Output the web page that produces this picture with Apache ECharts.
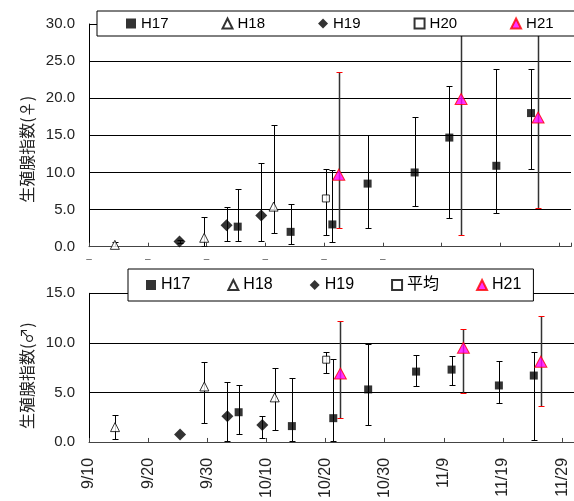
<!DOCTYPE html>
<html><head><meta charset="utf-8">
<script src="https://cdn.jsdelivr.net/npm/echarts@6/dist/echarts.min.js"></script>
<style>html,body{margin:0;padding:0;background:#fff}#c{width:574px;height:501px}</style>
</head><body><div id="c"></div>
<script>
// x values are days after 9/10
const xTickLabels = ['9/10','9/20','9/30','10/10','10/20','10/30','11/9','11/19','11/29'];
const yTickLabelsF = ['0.0','5.0','10.0','15.0','20.0','25.0','30.0'];
const yTickLabelsM = ['0.0','5.0','10.0','15.0'];

// ---- female (top) ----
const fH17Day = [25.3, 34.3, 41.4, 47.4, 55.4, 61.3, 69.3, 75.2];
const fH17Val = [2.7, 2.0, 3.0, 8.5, 10.0, 14.7, 10.9, 18.0];
const fH17Lo  = [0.8, 0.3, 0.7, 2.5, 5.5, 3.8, 4.6, 10.5];
const fH17Hi  = [7.8, 5.8, 10.3, 15.0, 17.5, 21.7, 24.0, 24.0];
const fH18Day = [4.4, 19.6, 31.4];
const fH18Val = [0.25, 1.2, 5.4];
const fH18Lo  = [0.0, 0.1, 1.9];
const fH18Hi  = [0.6, 4.0, 16.4];
const fH19Day = [15.4, 23.4, 29.3];
const fH19Val = [0.7, 2.9, 4.2];
const fH19Lo  = [0.5, 0.8, 0.8];
const fH19Hi  = [0.9, 5.3, 11.3];
const fH20Day = [40.3];
const fH20Val = [6.5];
const fH20Lo  = [1.6];
const fH20Hi  = [10.5];
const fH21Day = [42.5, 63.3, 76.4];
const fH21Val = [9.7, 19.9, 17.4];
const fH21Lo  = [2.5, 1.6, 5.2];
const fH21Hi  = [23.6, 32.0, 31.0];

// ---- male (bottom) ----
const mH17Day = [25.3, 34.3, 41.3, 47.2, 55.3, 61.3, 69.3, 75.2];
const mH17Val = [3.0, 1.6, 2.4, 5.3, 7.1, 7.3, 5.7, 6.7];
const mH17Lo  = [0.8, 0.1, 0.1, 1.7, 5.6, 5.7, 3.9, 0.2];
const mH17Hi  = [5.75, 6.5, 8.35, 9.9, 8.8, 8.65, 8.2, 9.1];
const mH18Day = [4.4, 19.5, 31.4];
const mH18Val = [1.5, 5.6, 4.5];
const mH18Lo  = [0.3, 1.9, 1.25];
const mH18Hi  = [2.7, 8.1, 7.5];
const mH19Day = [15.4, 23.4, 29.3];
const mH19Val = [0.75, 2.6, 1.7];
const mH19Lo  = [null, 0.1, 0.4];
const mH19Hi  = [null, 6.0, 2.6];
const mAvgDay = [40.1];
const mAvgVal = [8.3];
const mAvgLo  = [7.0];
const mAvgHi  = [9.1];
const mH21Day = [42.5, 63.3, 76.4];
const mH21Val = [6.9, 9.5, 8.1];
const mH21Lo  = [2.4, 4.9, 3.65];
const mH21Hi  = [12.2, 11.4, 12.7];

const FONT = "'Liberation Sans', Arial, 'Noto Sans CJK JP', sans-serif";

const styles = {
  H17: {symbol:'rect', size:8, item:{color:'#000', borderColor:'#000', borderWidth:0}},
  H18: {symbol:'triangle', size:[9,9], item:{color:'#fff', borderColor:'#000', borderWidth:1}},
  H19: {symbol:'diamond', size:[12,12], item:{color:'#000', borderColor:'#000', borderWidth:0}},
  H20: {symbol:'rect', size:7, item:{color:'#fff', borderColor:'#000', borderWidth:1}},
  H21: {symbol:'triangle', size:[12,11], item:{color:'#ff00ff', borderColor:'#ff0000', borderWidth:1}}
};

function scat(name, key, idx, days, vals) {
  const s = styles[key];
  return {
    type:'scatter', name:name, xAxisIndex:idx, yAxisIndex:idx,
    data: days.map((d,i)=>[d, vals[i]]),
    symbol:s.symbol, symbolSize:s.size, itemStyle:s.item, z:5,
    emphasis:{disabled:true}, silent:true
  };
}

function errs(idx, days, lo, hi, capColor, lineColor, lineW) {
  const data = [];
  days.forEach((d,i)=>{ if (lo[i] != null && hi[i] != null) data.push([d, lo[i], hi[i]]); });
  return {
    type:'custom', name:'err'+idx+capColor+days[0], xAxisIndex:idx, yAxisIndex:idx, clip:true, z:3,
    silent:true,
    data:data,
    renderItem: function(params, api) {
      const p1 = api.coord([api.value(0), api.value(1)]);
      const p2 = api.coord([api.value(0), api.value(2)]);
      const x = Math.round(p1[0]) + 0.5;
      const y1 = Math.round(p1[1]) + 0.5, y2 = Math.round(p2[1]) + 0.5;
      const hw = 3;
      return {type:'group', children:[
        {type:'line', shape:{x1:x, y1:y1, x2:x, y2:y2}, style:{stroke:lineColor, lineWidth:lineW}},
        {type:'line', shape:{x1:x-hw, y1:y1, x2:x+hw, y2:y1}, style:{stroke:capColor, lineWidth:1}},
        {type:'line', shape:{x1:x-hw, y1:y2, x2:x+hw, y2:y2}, style:{stroke:capColor, lineWidth:1}}
      ]};
    }
  };
}

function dayLabelTop(v) {
  if (v % 10 === 0 && v <= 50) return '\u2013';
  return '';
}
function dayLabelBottom(v) {
  if (v % 10 === 0 && v/10 < xTickLabels.length) return xTickLabels[v/10];
  return '';
}

const chart = echarts.init(document.getElementById('c'), null, {renderer:'canvas'});
const xBase = {
  type:'value', min:0, max:82, interval:10,
  axisLine:{show:true, lineStyle:{color:'#444', width:1}},
  axisTick:{show:true, inside:true, length:4, lineStyle:{color:'#444'}},
  splitLine:{show:false}
};
const yBase = {
  type:'value', min:0, interval:5,
  axisLine:{show:true, lineStyle:{color:'#000', width:1}},
  axisTick:{show:false},
  splitLine:{show:true, lineStyle:{color:'#000', width:1}},
  nameLocation:'middle', nameRotate:90, nameGap:50
};

chart.setOption({
  animation:false,
  backgroundColor:'#fff',
  textStyle:{fontFamily:FONT},
  grid:[
    {left:89, right:0, top:24, bottom:254.3},
    {left:89, right:0, top:293.3, bottom:56}
  ],
  xAxis:[
    Object.assign({}, xBase, {gridIndex:0,
      axisLabel:{formatter:dayLabelTop, fontSize:10, color:'#555', margin:8}}),
    Object.assign({}, xBase, {gridIndex:1,
      axisLabel:{formatter:dayLabelBottom, fontSize:16, color:'#222', rotate:90, margin:16, fontFamily:FONT}})
  ],
  yAxis:[
    Object.assign({}, yBase, {gridIndex:0, max:30, name:'生殖腺指数(♀)',
      nameTextStyle:{fontSize:16, color:'#222', fontFamily:"'Noto Sans CJK JP', sans-serif", padding:[0,28,0,0]},
      axisLabel:{formatter:(v)=>yTickLabelsF[v/5], fontSize:15, color:'#222', margin:14, fontFamily:FONT}}),
    Object.assign({}, yBase, {gridIndex:1, max:15, name:'生殖腺指数(♂)',
      nameTextStyle:{fontSize:16, color:'#222', fontFamily:"'Noto Sans CJK JP', sans-serif", padding:[0,16,0,0]},
      axisLabel:{formatter:(v)=>yTickLabelsM[v/5], fontSize:15, color:'#222', margin:14, fontFamily:FONT}})
  ],
  legend:[
    {left:97, top:11, width:800, data:['H17','H18','H19','H20','H21'], selectedMode:false,
     padding:[5,80,5,29], itemGap:53, itemWidth:10, itemHeight:10,
     borderColor:'#000', borderWidth:1, backgroundColor:'#fff', z:10,
     textStyle:{fontSize:15, color:'#000', fontFamily:FONT}},
    {left:128, top:269, data:['H17','H18','H19','平均','H21'], selectedMode:false,
     padding:[8,12,8,18], itemGap:37, itemWidth:10, itemHeight:10,
     borderColor:'#000', borderWidth:1, backgroundColor:'#fff', z:10,
     textStyle:{fontSize:16, color:'#000', fontFamily:FONT}}
  ],
  series:[
    errs(0, fH17Day, fH17Lo, fH17Hi, '#000', '#000', 1),
    errs(0, fH18Day, fH18Lo, fH18Hi, '#000', '#000', 1),
    errs(0, fH19Day, fH19Lo, fH19Hi, '#000', '#000', 1),
    errs(0, fH20Day, fH20Lo, fH20Hi, '#000', '#000', 1),
    errs(0, fH21Day, fH21Lo, fH21Hi, '#ff0000', '#333', 1.5),
    errs(1, mH17Day, mH17Lo, mH17Hi, '#000', '#000', 1),
    errs(1, mH18Day, mH18Lo, mH18Hi, '#000', '#000', 1),
    errs(1, mH19Day, mH19Lo, mH19Hi, '#000', '#000', 1),
    errs(1, mAvgDay, mAvgLo, mAvgHi, '#000', '#000', 1),
    errs(1, mH21Day, mH21Lo, mH21Hi, '#ff0000', '#333', 1.5),
    scat('H17', 'H17', 0, fH17Day, fH17Val),
    scat('H18', 'H18', 0, fH18Day, fH18Val),
    scat('H19', 'H19', 0, fH19Day, fH19Val),
    scat('H20', 'H20', 0, fH20Day, fH20Val),
    scat('H21', 'H21', 0, fH21Day, fH21Val),
    scat('H17', 'H17', 1, mH17Day, mH17Val),
    scat('H18', 'H18', 1, mH18Day, mH18Val),
    scat('H19', 'H19', 1, mH19Day, mH19Val),
    scat('平均', 'H20', 1, mAvgDay, mAvgVal),
    scat('H21', 'H21', 1, mH21Day, mH21Val)
  ]
});
</script>
</body></html>
